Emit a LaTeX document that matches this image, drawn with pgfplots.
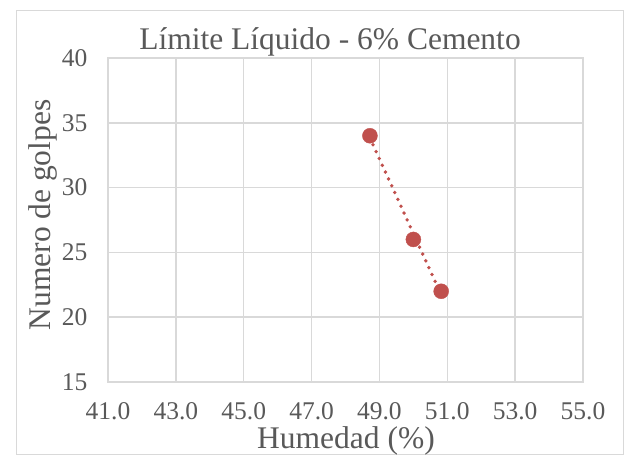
\documentclass[border=0pt]{standalone}
\usepackage{pgfplots}
\pgfplotsset{compat=1.18}
\usepackage{fontspec}
\setmainfont{Liberation Serif}
\definecolor{gridc}{HTML}{D9D9D9}
\definecolor{txtc}{HTML}{595959}
\definecolor{ptc}{HTML}{C0504D}
\begin{document}
\begin{tikzpicture}[x=1bp,y=1bp]
\useasboundingbox (-108,-74) rectangle (516,382);
\draw[gridc, line width=1bp] (-91,-73) rectangle (515,371);
\begin{axis}[
  at={(0,0)}, anchor=south west,
  scale only axis, width=475bp, height=324bp,
  xmin=41, xmax=55, ymin=15, ymax=40,
  xtick={41,43,...,55}, ytick={15,20,...,40},
  xmajorgrids, ymajorgrids,
  grid style={gridc, line width=1.5bp},
  axis line style={gridc, line width=1.5bp},
  major tick length=0pt,
  /pgf/number format/assume math mode=true,
  xticklabel style={/pgf/number format/.cd, fixed, fixed zerofill, precision=1, /tikz/.cd, font=\fontsize{25.5bp}{28bp}\selectfont, text=txtc, yshift=-17bp},
  yticklabel style={font=\fontsize{25.5bp}{28bp}\selectfont, text=txtc, xshift=-17bp},
  clip=false,
]
\addplot[ptc, line width=3.8bp, dash pattern=on 0bp off 7.5bp, line cap=round] coordinates {(48.72,33.83) (50.82,21.73)};
\addplot[only marks, mark=*, mark size=7.5bp, mark options={fill=ptc, draw=ptc}] coordinates {(48.72,34) (50.0,26) (50.82,22)};
\end{axis}
\node[anchor=base, text=txtc, font=\fontsize{31.5bp}{34bp}\selectfont] at (222,332) {Límite Líquido - 6\% Cemento};
\node[anchor=base, text=txtc, font=\fontsize{31.5bp}{34bp}\selectfont] at (238,-67) {Humedad (\%)};
\node[anchor=base, rotate=90, text=txtc, font=\fontsize{31.5bp}{34bp}\selectfont] at (-57,167) {Numero de golpes};
\end{tikzpicture}
\end{document}
